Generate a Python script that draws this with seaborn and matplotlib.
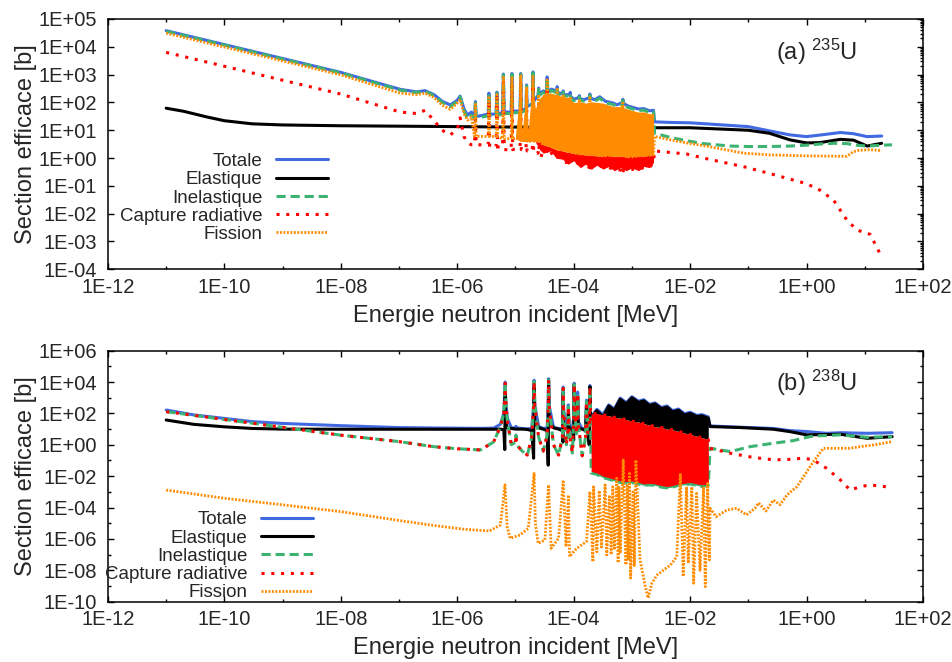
import numpy as np
import seaborn as sns
import matplotlib.pyplot as plt
from matplotlib.ticker import LogLocator, FuncFormatter, NullFormatter

# ---------------------------------------------------------------------------
# (a) U-235   energies in MeV, cross sections in barn
# ---------------------------------------------------------------------------
E235_low = [1e-11, 1e-10, 1e-9, 1e-8, 1.05e-7, 2.0e-7, 2.8e-7, 4.0e-7, 5.5e-7,
            7.6e-7, 1.0e-6, 1.12e-6, 1.3e-6, 1.5e-6, 1.75e-6]
tot235_low = [3.8e4, 1.2e4, 3.8e3, 1.2e3, 295, 240, 265, 190, 110, 81, 120, 170, 60, 35, 45]
inel235_low = [3.6e4, 1.15e4, 3.6e3, 1.15e3, 275, 225, 250, 175, 100, 70, 110, 160, 50, 26, 35]
cap235_low = [6.3e3, 2.0e3, 630, 200, 45, 40, 52, 22, 10, 6.8, 11, 28, 6, 3.5, 3.0]
fis235_low = [3.1e4, 9.8e3, 3.1e3, 980, 215, 190, 215, 150, 80, 56, 95, 130, 40, 23, 30]

# resolved resonances (valley / peak / valley triplets)
E235_res = [1.98e-6, 2.05e-6, 2.12e-6, 3.4e-6, 3.5e-6, 3.6e-6, 4.65e-6, 4.8e-6, 4.95e-6,
            6.0e-6, 6.2e-6, 6.4e-6, 8.45e-6, 8.7e-6, 8.95e-6, 1.2e-5, 1.23e-5, 1.26e-5,
            1.52e-5, 1.55e-5, 1.58e-5, 1.95e-5, 2.0e-5, 2.05e-5, 2.45e-5, 2.5e-5, 2.55e-5,
            3.0e-5, 3.4e-5, 3.5e-5, 3.6e-5, 4.2e-5, 5.1e-5, 5.2e-5, 5.3e-5,
            6.5e-5, 6.6e-5, 6.7e-5, 8.6e-5, 8.7e-5, 8.8e-5, 1.0e-4, 1.24e-4, 1.25e-4, 1.26e-4,
            1.5e-4, 1.88e-4, 1.9e-4, 1.92e-4, 2.3e-4, 2.8e-4, 3.5e-4, 4.8e-4, 5.5e-4,
            6.95e-4, 7.0e-4, 7.05e-4, 8.5e-4, 1.07e-3, 1.3e-3, 1.6e-3, 2.0e-3, 2.35e-3]
tot235_res = [31, 107, 31, 38, 215, 38, 38, 235, 40,
              42, 1050, 45, 45, 1100, 48, 50, 1100, 50,
              60, 425, 70, 90, 1250, 110, 180, 330, 200,
              260, 230, 830, 250, 300, 250, 370, 230,
              200, 260, 190, 190, 230, 170, 130, 150, 175, 140,
              125, 150, 200, 145, 125, 160, 110, 95, 82,
              100, 130, 95, 75, 65, 58, 60, 50, 52]
inel235_res = [27, 95, 27, 33, 195, 33, 33, 215, 35,
               37, 980, 40, 40, 1020, 42, 44, 1030, 44,
               53, 390, 62, 80, 1150, 97, 160, 300, 178,
               230, 205, 770, 222, 265, 222, 340, 205,
               178, 235, 170, 170, 205, 150, 115, 133, 158, 125,
               110, 133, 180, 128, 110, 142, 97, 84, 72,
               88, 118, 84, 66, 57, 51, 53, 44, 46]
cap235_res = [3, 25, 3, 3, 120, 2.5, 2.5, 150, 2.5,
              2.5, 500, 2, 2, 450, 2, 2.5, 500, 2,
              2, 200, 1.8, 1.8, 450, 1.5, 1.5, 110, 1.3,
              1.2, 1.2, 350, 1.2, 1.5, 1.0, 150, 0.9,
              0.9, 100, 0.7, 0.7, 90, 0.8, 0.8, 0.6, 70, 0.6,
              0.6, 0.45, 80, 0.45, 0.45, 0.5, 0.5, 0.4, 0.4,
              0.35, 40, 0.35, 0.35, 0.4, 0.4, 0.45, 0.45, 0.7]
fis235_res = [6, 85, 6, 6, 170, 6, 6, 190, 6,
              5, 800, 5, 5, 850, 5, 5, 900, 5,
              4, 330, 4, 4, 950, 4, 4, 190, 4,
              3, 3, 650, 3, 2.5, 2.5, 300, 2.5,
              2, 190, 2, 1.8, 160, 1.8, 1.5, 1.4, 130, 1.4,
              1.4, 1.3, 150, 1.3, 1.3, 1.2, 1.2, 1.2, 1.2,
              1.2, 95, 1.2, 1.1, 1.1, 1.2, 1.2, 1.25, 1.3]

# dense resonance band (envelopes)
band235_E = [1.0e-5, 1.2e-5, 1.3e-5, 1.5e-5, 1.65e-5, 1.95e-5, 2.2e-5, 2.6e-5, 3.0e-5, 4.0e-5,
             5.0e-5, 6.5e-5, 8.0e-5, 1.0e-4, 1.3e-4, 1.6e-4, 2.0e-4, 2.5e-4, 3.2e-4, 4.0e-4,
             5.0e-4, 6.3e-4, 8.0e-4, 1.0e-3, 1.3e-3, 1.6e-3, 2.0e-3, 2.35e-3]
fis235_band_hi = [6, 300, 8, 150, 10, 400, 60, 140, 200, 220,
                  190, 160, 150, 100, 105, 95, 105, 100, 95, 80,
                  70, 72, 60, 52, 45, 46, 39, 40]
fis235_band_lo = [5, 4, 4, 4, 4, 4, 4, 4, 3, 2.5,
                  2, 1.8, 1.6, 1.5, 1.4, 1.3, 1.3, 1.2, 1.2, 1.25,
                  1.15, 1.2, 1.1, 1.15, 1.2, 1.2, 1.25, 1.3]
cap235_band_lo = [5, 4, 4, 4, 4, 4, 4, 2.0, 1.5, 1.8,
                  1.0, 0.9, 0.6, 0.8, 0.45, 0.6, 0.4, 0.55, 0.4, 0.5,
                  0.35, 0.45, 0.35, 0.45, 0.35, 0.5, 0.45, 0.7]

tot235_hi_E = [2.45e-3, 5e-3, 1e-2, 0.1, 0.23, 0.52, 1.0, 2.0, 3.8, 6.4, 11, 19.5]
tot235_hi = [20, 19, 18.5, 13.5, 9.5, 6.8, 5.9, 7.0, 8.3, 7.5, 5.9, 6.2]
inel235_hi_E = [2.45e-3, 4.6e-3, 8.7e-3, 1.7e-2, 4.9e-2, 0.1, 0.23, 0.52, 1.0, 1.7, 2.9,
                4.9, 7.3, 11, 19.5, 29.5]
inel235_hi = [7.8, 5.5, 4.2, 3.3, 2.7, 2.6, 2.6, 2.7, 2.9, 3.2, 3.4, 3.3, 2.9, 2.7, 2.9, 3.0]
cap235_hi_E = [2.45e-3, 8.7e-3, 1.7e-2, 8.3e-2, 0.23, 1.0, 1.7, 2.9, 4.9, 7.3, 12.4, 19.5]
cap235_hi = [1.8, 1.4, 1.0, 0.49, 0.28, 0.12, 0.07, 0.031, 0.006, 0.0026, 0.0018, 2.8e-4]
fis235_hi_E = [2.45e-3, 4.6e-3, 8.7e-3, 1.7e-2, 8.3e-2, 0.23, 1.0, 4.9, 6.4, 8.0, 12.4, 19.5]
fis235_hi = [6, 4.5, 3.5, 2.8, 1.5, 1.3, 1.2, 1.15, 1.7, 1.9, 2.0, 1.85]

el235_E = [1e-11, 2e-11, 5e-11, 1e-10, 3e-10, 1e-9, 1e-8, 1e-7, 1e-6, 1e-5, 1e-4, 1e-3,
           2.45e-3, 1e-2, 0.1, 0.23, 0.52, 1.0, 1.7, 3.8, 6.4, 11, 19.5]
el235 = [62, 48, 30, 22, 17, 15.5, 14.5, 14, 13.5, 13, 12.5, 12.3,
         12.3, 12.3, 10, 7.8, 4.5, 3.5, 3.6, 4.7, 4.4, 2.7, 3.4]

# ---------------------------------------------------------------------------
# (b) U-238
# ---------------------------------------------------------------------------
E238_low = [1e-11, 3e-11, 1e-10, 3e-10, 1e-9, 1e-8, 1e-7, 3.9e-7, 1e-6, 2.5e-6, 4.2e-6]
tot238_low = [165, 80, 48, 30, 23, 16.6, 12.5, 11.8, 11.5, 11.2, 11.5]
el238_low = [38, 20, 14, 11, 10, 9.8, 9.8, 9.8, 9.8, 9.8, 9.8]
cap238_low = [130, 75, 41, 24, 13, 4.1, 1.6, 0.76, 0.56, 0.47, 1.5]

E238_res = [5.5e-6, 6.3e-6, 6.55e-6, 6.65e-6, 6.75e-6, 7.2e-6, 8.5e-6, 1.0e-5, 1.02e-5, 1.05e-5,
            1.3e-5, 1.6e-5, 1.9e-5, 2.05e-5, 2.09e-5, 2.15e-5, 2.5e-5, 3.0e-5, 3.5e-5, 3.65e-5,
            3.7e-5, 3.78e-5, 4.5e-5, 5.5e-5, 6.4e-5, 6.55e-5, 6.6e-5, 6.7e-5, 7.5e-5, 8.0e-5,
            8.1e-5, 8.3e-5, 9.5e-5, 1.0e-4, 1.02e-4, 1.05e-4, 1.12e-4, 1.17e-4, 1.2e-4, 1.4e-4,
            1.6e-4, 1.66e-4, 1.72e-4, 1.85e-4, 1.9e-4, 1.95e-4]
tot238_res = [20, 100, 1500, 10000, 1200, 50, 12, 12, 15, 12,
              11, 10.5, 11, 300, 13000, 320, 15, 11, 12, 400,
              16000, 330, 13, 11, 11, 200, 4800, 170, 11, 18,
              350, 19, 10.5, 50, 8500, 100, 15, 2300, 30, 10.5,
              11, 700, 15, 20, 6000, 70]
el238_res = [10, 9, 0.5, 2000, 30, 12, 11, 10, 10, 10,
             10, 9.5, 8, 0.14, 5000, 25, 12, 10, 8, 0.05,
             13500, 30, 12, 10, 8, 1.5, 2000, 20, 10, 8,
             100, 11, 10, 2, 7000, 25, 10, 1000, 12, 10,
             8, 300, 10, 1, 5000, 30]
cap238_res = [14, 100, 1500, 8300, 1200, 40, 1.0, 1.5, 4.2, 1.0,
              0.4, 0.22, 3, 300, 10700, 300, 3, 0.4, 4, 400,
              13500, 300, 1.0, 0.22, 3, 200, 4000, 150, 1.0, 10,
              270, 8, 0.3, 50, 7000, 80, 5, 1900, 20, 0.2,
              3, 560, 5, 20, 5000, 40]

band238_E = [2.0e-4, 2.5e-4, 3.2e-4, 4e-4, 5e-4, 6.3e-4, 8e-4, 1e-3, 1.3e-3, 1.6e-3,
             2e-3, 2.5e-3, 3.2e-3, 4e-3, 5e-3, 6.3e-3, 8e-3, 1e-2, 1.3e-2, 1.6e-2, 2.05e-2]
tot238_band_hi = [60, 180, 85, 350, 190, 950, 480, 1150, 600, 750,
                  380, 470, 240, 300, 150, 190, 95, 120, 75, 84, 60]
el238_band_hi = [50, 150, 60, 300, 160, 800, 400, 1000, 500, 630,
                 320, 400, 200, 250, 125, 160, 80, 100, 63, 70, 50]
cap238_band_hi = [90, 100, 79, 71, 56, 50, 40, 32, 28, 22,
                  18, 14, 12.6, 10, 8.9, 7.1, 5.6, 4.5, 3.5, 2.8, 2.2]
cap238_band_lo = [0.02, 0.016, 0.01, 0.008, 0.0063, 0.005, 0.0045, 0.005, 0.004, 0.0032,
                  0.0035, 0.0032, 0.0025, 0.0022, 0.0025, 0.0032, 0.0035, 0.004, 0.0032, 0.0028, 0.0032]
inel238_band_lo = [0.016, 0.013, 0.008, 0.0065, 0.005, 0.004, 0.0036, 0.004, 0.0032, 0.0026,
                   0.0028, 0.0026, 0.002, 0.0018, 0.002, 0.0026, 0.0028, 0.0032, 0.0026, 0.0022, 0.0026]

tot238_hi_E = [2.2e-2, 4.9e-2, 0.27, 0.52, 1.0, 2.2, 3.8, 11, 29.5]
tot238_hi = [16, 14, 11, 8, 7, 5.4, 5.9, 5.4, 5.9]
el238_hi_E = [2.2e-2, 7.2e-2, 0.27, 0.52, 1.0, 3.8, 11, 29.5]
el238_hi = [14.5, 12.6, 9.8, 6.9, 4.3, 4.7, 2.6, 3.3]
inel238_hi_E = [2.2e-2, 4.9e-2, 0.107, 0.27, 0.6, 1.0, 1.3, 3.8, 11, 29.5]
inel238_hi = [0.6, 0.37, 0.76, 1.26, 1.86, 3.0, 3.6, 4.3, 3.0, 3.3]
cap238_hi_E = [2.2e-2, 4.9e-2, 0.107, 0.21, 0.4, 0.89, 1.3, 2.2, 3.8, 5.6, 8.3, 12.3, 29.5]
cap238_hi = [0.6, 0.29, 0.17, 0.12, 0.11, 0.14, 0.11, 0.032, 0.0058, 0.0013, 0.0021, 0.0028, 0.0019]

fis238_E = [1e-11, 1e-10, 1e-9, 1e-8, 1e-7, 3.4e-7, 1.26e-6, 3.6e-6, 5.5e-6, 6.6e-6,
            7.2e-6, 8.1e-6, 1.2e-5, 1.66e-5, 2.09e-5, 2.2e-5, 2.45e-5, 3.2e-5, 3.7e-5, 4.1e-5,
            5.5e-5, 6.6e-5, 7.4e-5, 8.1e-5, 8.5e-5, 1.12e-4, 1.66e-4, 1.9e-4, 2.14e-4, 2.19e-4,
            2.5e-4, 2.75e-4, 3.0e-4, 3.47e-4, 3.7e-4, 4.1e-4, 4.4e-4, 4.7e-4, 5.0e-4, 5.5e-4,
            5.8e-4, 6.0e-4, 6.3e-4, 7.1e-4, 7.9e-4, 8.3e-4, 8.7e-4, 9.1e-4, 9.5e-4, 1.05e-3,
            1.1e-3, 1.17e-3, 1.38e-3, 1.7e-3, 1.9e-3, 2.2e-3, 2.7e-3, 4.6e-3, 5.9e-3, 6.8e-3,
            7.6e-3, 8.7e-3, 9.3e-3, 1.07e-2, 1.15e-2, 1.29e-2, 1.48e-2, 1.7e-2, 1.82e-2, 2.0e-2,
            2.14e-2, 2.2e-2, 2.8e-2, 4.3e-2, 6.3e-2, 9.3e-2, 0.13, 0.15, 0.2, 0.27,
            0.35, 0.46, 0.68, 0.89, 1.15, 1.51, 1.95, 3.8, 5.6, 8.3,
            15, 29.5]
fis238 = [1.3e-3, 3.9e-4, 1.5e-4, 5.5e-5, 1.5e-5, 7.8e-6, 4.2e-6, 3.2e-6, 7.8e-6, 2.8e-3,
          6e-6, 1.1e-6, 1.8e-6, 4.8e-6, 1.5e-2, 1e-5, 5.2e-7, 8.5e-7, 2.8e-3, 2.5e-7,
          1.1e-6, 4.5e-3, 3.2e-7, 6.3e-4, 7.4e-8, 2.5e-7, 6.8e-7, 1.05e-3, 3.5e-8, 2.1e-3,
          1.5e-7, 1.2e-3, 3e-7, 2.8e-3, 9.5e-8, 5e-4, 1e-7, 2.1e-3, 2.5e-7, 7.4e-3,
          3e-8, 2e-3, 1.2e-7, 0.107, 2.2e-8, 3e-3, 5e-8, 1.5e-2, 3.2e-9, 1e-3,
          2e-8, 0.107, 4.6e-8, 9e-10, 1.7e-10, 1.5e-9, 5e-9, 2.2e-8, 7.4e-8, 1.5e-2,
          4e-9, 2.1e-3, 2.8e-8, 2.1e-3, 1.5e-9, 8e-4, 1e-8, 2.1e-3, 9e-10, 3.5e-3,
          4.6e-8, 9e-5, 2.6e-5, 7e-5, 9e-5, 3.4e-5, 9e-5, 2e-4, 6e-5, 3e-4,
          1.5e-4, 6.3e-4, 2.1e-3, 9.3e-3, 4.1e-2, 0.17, 0.6, 0.6, 0.6, 0.76,
          1.0, 1.6]

NAMES = ['Totale', 'Elastique', 'Inelastique', 'Capture radiative', 'Fission']
STYLES = {
    'Totale': dict(color='#4169e1', lw=2.2, ls='-'),
    'Elastique': dict(color='black', lw=2.2, ls='-'),
    'Inelastique': dict(color='#3cb371', lw=2.2, ls=(0, (3, 1.6))),
    'Capture radiative': dict(color='#ff0000', lw=2.2, ls=(0, (1, 2.2))),
    'Fission': dict(color='#ff8c00', lw=2.0, ls=(0, (0.7, 0.55))),
}
ZORD = {n: 2 + 0.1 * i for i, n in enumerate(NAMES)}

sns.set_theme(style='ticks')
plt.rcParams['font.family'] = ['Liberation Sans', 'DejaVu Sans']
plt.rcParams['mathtext.fontset'] = 'custom'
plt.rcParams['mathtext.rm'] = 'Liberation Sans'
plt.rcParams['axes.linewidth'] = 1.1


def draw(ax, E, s, name):
    st = STYLES[name]
    sns.lineplot(x=E, y=s, ax=ax, color=st['color'], linewidth=st['lw'],
                 linestyle=st['ls'], estimator=None, sort=False, legend=False,
                 zorder=ZORD[name])
    line = ax.lines[-1]
    line.set_label(name)
    return line


def band(ax, E, lo, hi, name):
    ax.fill_between(E, lo, hi, color=STYLES[name]['color'], lw=0, zorder=ZORD[name])


def decade_fmt(v, pos):
    return '1E%+03d' % int(round(np.log10(v)))


def style_axes(ax, ylo, yhi, every_decade):
    ax.set_xlim(1e-12, 1e2)
    ax.set_ylim(10.0 ** ylo, 10.0 ** yhi)
    # x: labels every two decades, short ticks in between
    ax.set_xticks(10.0 ** np.arange(-12, 3, 2))
    ax.set_xticks(10.0 ** np.arange(-11, 2, 2), minor=True)
    if every_decade:
        ax.set_yticks(10.0 ** np.arange(ylo, yhi + 1))
        ax.yaxis.set_minor_locator(LogLocator(base=10, subs=np.arange(2, 10), numticks=30))
    else:
        ax.set_yticks(10.0 ** np.arange(ylo, yhi + 1, 2))
        ax.set_yticks(10.0 ** np.arange(ylo + 1, yhi, 2), minor=True)
    ax.xaxis.set_major_formatter(FuncFormatter(decade_fmt))
    ax.yaxis.set_major_formatter(FuncFormatter(decade_fmt))
    ax.xaxis.set_minor_formatter(NullFormatter())
    ax.yaxis.set_minor_formatter(NullFormatter())
    ax.tick_params(which='both', direction='in', top=True, right=True,
                   width=1.0, labelsize=14.5, color='black')
    ax.tick_params(which='major', length=4.5)
    ax.tick_params(which='minor', length=2.5)
    if every_decade:
        ax.tick_params(axis='y', which='minor', left=False, right=True)
    ax.tick_params(axis='x', pad=6)
    ax.tick_params(axis='y', pad=8)
    for sp in ax.spines.values():
        sp.set_color('black')
    ax.set_xlabel('Energie neutron incident [MeV]', fontsize=17, labelpad=6)
    ax.set_ylabel('Section efficace [b]', fontsize=17, labelpad=1)


def add_legend(ax, handles, anchor):
    ax.legend(handles=handles, labels=NAMES, loc='upper right', bbox_to_anchor=anchor,
              frameon=False, markerfirst=False, fontsize=13.5, handlelength=2.8,
              handletextpad=0.7, labelspacing=0.06, borderpad=0, borderaxespad=0)


fig = plt.figure(figsize=(9.53, 6.62), dpi=100)
ax1 = fig.add_axes([0.1133, 0.5932, 0.8552, 0.3781])
ax2 = fig.add_axes([0.1133, 0.0911, 0.8552, 0.3792])
for ax in (ax1, ax2):
    ax.set_xscale('log')
    ax.set_yscale('log')

# ---- panel (a)
h = []
h.append(draw(ax1, E235_low + E235_res + tot235_hi_E, tot235_low + tot235_res + tot235_hi, 'Totale'))
h.append(draw(ax1, el235_E, el235, 'Elastique'))
h.append(draw(ax1, E235_low + E235_res + inel235_hi_E, inel235_low + inel235_res + inel235_hi, 'Inelastique'))
band(ax1, band235_E, cap235_band_lo, fis235_band_lo, 'Capture radiative')
h.append(draw(ax1, E235_low + E235_res + cap235_hi_E, cap235_low + cap235_res + cap235_hi, 'Capture radiative'))
band(ax1, band235_E, fis235_band_lo, fis235_band_hi, 'Fission')
h.append(draw(ax1, E235_low + E235_res + fis235_hi_E, fis235_low + fis235_res + fis235_hi, 'Fission'))
style_axes(ax1, -4, 5, True)
add_legend(ax1, h, (0.27, 0.465))
ax1.text(0.919, 0.868, r'(a) $\mathregular{^{235}}$U', transform=ax1.transAxes,
         ha='right', va='center', fontsize=17)

# ---- panel (b)
h = []
h.append(draw(ax2, E238_low + E238_res + band238_E + tot238_hi_E,
              tot238_low + tot238_res + tot238_band_hi + tot238_hi, 'Totale'))
band(ax2, band238_E, cap238_band_hi, el238_band_hi, 'Elastique')
h.append(draw(ax2, E238_low + E238_res + band238_E + el238_hi_E,
              el238_low + el238_res + el238_band_hi + el238_hi, 'Elastique'))
band(ax2, band238_E, inel238_band_lo, cap238_band_hi, 'Inelastique')
h.append(draw(ax2, E238_low + E238_res + band238_E + inel238_hi_E,
              cap238_low + cap238_res + inel238_band_lo + inel238_hi, 'Inelastique'))
band(ax2, band238_E, cap238_band_lo, cap238_band_hi, 'Capture radiative')
h.append(draw(ax2, E238_low + E238_res + band238_E + cap238_hi_E,
              cap238_low + cap238_res + cap238_band_hi + cap238_hi, 'Capture radiative'))
h.append(draw(ax2, fis238_E, fis238, 'Fission'))
style_axes(ax2, -10, 6, False)
add_legend(ax2, h, (0.252, 0.36))
ax2.text(0.919, 0.87, r'(b) $\mathregular{^{238}}$U', transform=ax2.transAxes,
         ha='right', va='center', fontsize=17)

fig.savefig('out.png', dpi=100)
